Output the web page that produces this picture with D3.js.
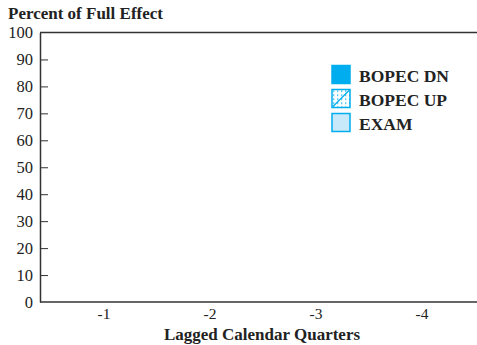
<!DOCTYPE html>
<html>
<head>
<meta charset="utf-8">
<script src="https://cdn.jsdelivr.net/npm/d3@7"></script>
<style>
  body { margin: 0; background: #fff; }
  svg { display: block; font-family: "Liberation Serif", "Times New Roman", serif; }
</style>
</head>
<body>
<div id="container"></div>
<script>
// categories and series (the reference shows no visible bars)
let quarters = ['-1', '-2', '-3', '-4']
let seriesNames = ['BOPEC DN', 'BOPEC UP', 'EXAM']
let bopecDn = [0, 0, 0, 0]
let bopecUp = [0, 0, 0, 0]
let exam = [0, 0, 0, 0]
let yTicks = [0, 10, 20, 30, 40, 50, 60, 70, 80, 90, 100]

let width = 477,
  height = 345,
  x0 = 40, xEnd = 477,
  yTop = 32.5, yBottom = 302

let svg = d3.select('#container')
  .append('svg')
  .attr('width', width)
  .attr('height', height)

let defs = svg.append('defs')
let pat = defs.append('pattern')
  .attr('id', 'dots')
  .attr('patternUnits', 'userSpaceOnUse')
  .attr('width', 4).attr('height', 4)
pat.append('rect').attr('width', 4).attr('height', 4).attr('fill', '#fff')
pat.append('rect').attr('x', 1).attr('y', 1).attr('width', 1.3).attr('height', 1.3).attr('fill', '#00aeef')

let colors = ['#00aeef', 'url(#dots)', '#c7e9f9']

let xScale = d3.scaleBand().domain(quarters).range([51, 475]).paddingInner(0.25).paddingOuter(0.125)
let xCenter = d3.scaleBand().domain(quarters).range([51, 475])
let yScale = d3.scaleLinear().domain([0, 100]).range([yBottom, yTop])
let xSub = d3.scaleBand().domain(seriesNames).range([0, xScale.bandwidth()])

// bars
let table = [bopecDn, bopecUp, exam]
seriesNames.forEach((name, si) => {
  svg.append('g')
    .selectAll('rect')
    .data(table[si])
    .join('rect')
    .attr('x', (d, i) => xScale(quarters[i]) + xSub(name))
    .attr('width', xSub.bandwidth())
    .attr('y', d => yScale(d))
    .attr('height', d => yBottom - yScale(d))
    .attr('fill', colors[si])
    .attr('stroke', d => d > 0 ? '#00aeef' : 'none')
})

// y axis, ticks pointing inward
let yAxis = d3.axisLeft(yScale)
  .tickValues(yTicks)
  .tickSizeInner(-8)
  .tickSizeOuter(0)
  .tickPadding(7)
let gy = svg.append('g')
  .attr('transform', 'translate(' + x0 + ',0)')
  .call(yAxis)
  .attr('font-family', null)
  .attr('font-size', 16.5)
gy.select('.domain').attr('stroke', '#333').attr('stroke-width', 1.5)
gy.selectAll('.tick line')
  .attr('stroke', '#333')
  .attr('display', d => (d === 0 || d === 100) ? 'none' : null)
gy.selectAll('.tick text')
  .attr('fill', '#222')

// frame lines at 0 and 100
svg.append('line')
  .attr('x1', x0).attr('x2', xEnd)
  .attr('y1', yScale(100)).attr('y2', yScale(100))
  .attr('stroke', '#333').attr('stroke-width', 1.5)
svg.append('line')
  .attr('x1', x0).attr('x2', xEnd)
  .attr('y1', yScale(0)).attr('y2', yScale(0))
  .attr('stroke', '#333').attr('stroke-width', 1.5)

// x labels
let xAxis = d3.axisBottom(xCenter).tickSize(0).tickPadding(6)
let gx = svg.append('g')
  .attr('transform', 'translate(0,' + yBottom + ')')
  .call(xAxis)
  .attr('font-family', null)
  .attr('font-size', 15.5)
gx.select('.domain').remove()
gx.selectAll('.tick text')
  .attr('fill', '#222')

// titles
svg.append('text')
  .text('Percent of Full Effect')
  .attr('x', 8).attr('y', 19)
  .attr('font-size', 17)
  .attr('font-weight', 'bold')
  .attr('fill', '#222')

svg.append('text')
  .text('Lagged Calendar Quarters')
  .attr('x', 262).attr('y', 340)
  .attr('text-anchor', 'middle')
  .attr('font-size', 17)
  .attr('font-weight', 'bold')
  .attr('fill', '#222')

// legend
let legend = svg.append('g')
  .selectAll('g')
  .data(seriesNames)
  .join('g')
  .attr('transform', (d, i) => 'translate(332,' + (65.5 + i * 24) + ')')
legend.append('rect')
  .attr('width', 18).attr('height', 18)
  .attr('fill', (d, i) => colors[i])
  .attr('stroke', '#00aeef')
  .attr('stroke-width', 1.5)
legend.filter((d, i) => i === 1)
  .append('line')
  .attr('x1', 1).attr('y1', 17).attr('x2', 17).attr('y2', 1)
  .attr('stroke', '#00aeef').attr('stroke-width', 1.2)
legend.append('text')
  .text(d => d)
  .attr('x', 27).attr('y', 16)
  .attr('font-size', 17.5)
  .attr('font-weight', 'bold')
  .attr('fill', '#222')
</script>
</body>
</html>
